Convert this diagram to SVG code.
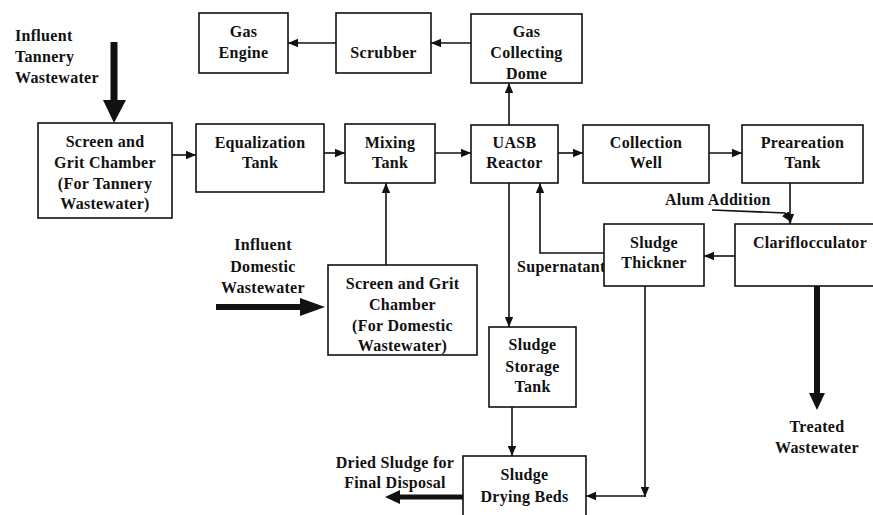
<svg xmlns="http://www.w3.org/2000/svg" width="873" height="515" viewBox="0 0 873 515" font-family="'Liberation Serif', 'Times New Roman', serif">
<style>
  .box { fill: #fff; stroke: #111; stroke-width: 1.6; }
  text { font-family: 'Liberation Serif', 'Times New Roman', serif; font-weight: bold; font-size: 16px; fill: #111; letter-spacing: 0.3px; }
  .c { text-anchor: middle; }
  .ln { fill: none; stroke: #111; stroke-width: 1.6; }
  .thick { fill: none; stroke: #111; }
  .head { fill: #111; }
</style>
<defs>
  <marker id="arr" markerUnits="userSpaceOnUse" markerWidth="10" markerHeight="10" viewBox="0 0 10 10" refX="10" refY="5" orient="auto">
    <path d="M0,0.8 L10,5 L0,9.2 Z" fill="#111"/>
  </marker>
</defs>
<rect width="873" height="515" fill="#fff"/>

<g id="connectors">
  <line class="thick" x1="114" y1="42" x2="114" y2="101" stroke-width="7"/>
  <polygon class="head" points="103,100 126,100 114,123"/>
  <line class="thick" x1="216" y1="307" x2="301" y2="307" stroke-width="6"/>
  <polygon class="head" points="300,298 300,316 325,307"/>
  <line class="thick" x1="817" y1="286" x2="817" y2="394" stroke-width="6"/>
  <polygon class="head" points="809,393 825,393 817,410"/>
  <line class="thick" x1="463" y1="497" x2="399" y2="497" stroke-width="5"/>
  <polygon class="head" points="400,490 400,504 385,497"/>

  <line class="ln" x1="172" y1="155" x2="196" y2="155" marker-end="url(#arr)"/>
  <line class="ln" x1="324" y1="153" x2="345" y2="153" marker-end="url(#arr)"/>
  <line class="ln" x1="435" y1="153" x2="471" y2="153" marker-end="url(#arr)"/>
  <line class="ln" x1="558" y1="153" x2="583" y2="153" marker-end="url(#arr)"/>
  <line class="ln" x1="709" y1="153" x2="742" y2="153" marker-end="url(#arr)"/>
  <line class="ln" x1="509" y1="125" x2="509" y2="83" marker-end="url(#arr)"/>
  <line class="ln" x1="471" y1="43" x2="431" y2="43" marker-end="url(#arr)"/>
  <line class="ln" x1="336" y1="43" x2="288" y2="43" marker-end="url(#arr)"/>
  <line class="ln" x1="386" y1="265" x2="386" y2="183" marker-end="url(#arr)"/>
  <line class="ln" x1="509" y1="183" x2="509" y2="327" marker-end="url(#arr)"/>
  <line class="ln" x1="512" y1="407" x2="512" y2="456" marker-end="url(#arr)"/>
  <path class="ln" d="M604,253 H540 V183" marker-end="url(#arr)"/>
  <line class="ln" x1="735" y1="256" x2="704" y2="256" marker-end="url(#arr)"/>
  <line class="ln" x1="790" y1="183" x2="790" y2="224" marker-end="url(#arr)"/>
  <path class="ln" d="M712,210 L785,213 L791,222" marker-end="url(#arr)"/>
  <line class="ln" x1="645" y1="286" x2="645" y2="497" marker-end="url(#arr)"/>
  <line class="ln" x1="645" y1="496" x2="586" y2="496" marker-end="url(#arr)"/>
</g>

<g id="label-influent-tannery">
  <text x="15" y="41">Influent</text>
  <text x="15" y="62">Tannery</text>
  <text x="15" y="83">Wastewater</text>
</g>
<g id="label-influent-domestic">
  <text class="c" x="263" y="250">Influent</text>
  <text class="c" x="263" y="272">Domestic</text>
  <text class="c" x="263" y="293">Wastewater</text>
</g>
<g id="label-alum">
  <text x="665" y="205">Alum Addition</text>
</g>
<g id="label-supernatant">
  <text x="517" y="272">Supernatant</text>
</g>
<g id="label-treated">
  <text class="c" x="817" y="432">Treated</text>
  <text class="c" x="817" y="453">Wastewater</text>
</g>
<g id="label-dried">
  <text class="c" x="395" y="468">Dried Sludge for</text>
  <text class="c" x="395" y="488">Final Disposal</text>
</g>

<g id="gas-engine">
  <rect class="box" x="199" y="13" width="89" height="60"/>
  <text class="c" x="243.5" y="37">Gas</text>
  <text class="c" x="243.5" y="58">Engine</text>
</g>
<g id="scrubber">
  <rect class="box" x="336" y="13" width="95" height="60"/>
  <text class="c" x="383.5" y="58">Scrubber</text>
</g>
<g id="gas-collecting-dome">
  <rect class="box" x="471" y="14" width="111" height="69"/>
  <text class="c" x="526.5" y="37">Gas</text>
  <text class="c" x="526.5" y="58">Collecting</text>
  <text class="c" x="526.5" y="79">Dome</text>
</g>
<g id="screen-tannery">
  <rect class="box" x="38" y="123" width="134" height="95"/>
  <text class="c" x="105" y="147">Screen and</text>
  <text class="c" x="105" y="168">Grit Chamber</text>
  <text class="c" x="105" y="189">(For Tannery</text>
  <text class="c" x="105" y="209">Wastewater)</text>
</g>
<g id="equalization-tank">
  <rect class="box" x="196" y="124" width="128" height="68"/>
  <text class="c" x="260" y="148">Equalization</text>
  <text class="c" x="260" y="168">Tank</text>
</g>
<g id="mixing-tank">
  <rect class="box" x="345" y="124" width="90" height="59"/>
  <text class="c" x="390" y="148">Mixing</text>
  <text class="c" x="390" y="168">Tank</text>
</g>
<g id="uasb-reactor">
  <rect class="box" x="471" y="125" width="87" height="58"/>
  <text class="c" x="514.5" y="148">UASB</text>
  <text class="c" x="514.5" y="168">Reactor</text>
</g>
<g id="collection-well">
  <rect class="box" x="583" y="125" width="126" height="58"/>
  <text class="c" x="646" y="148">Collection</text>
  <text class="c" x="646" y="168">Well</text>
</g>
<g id="preareation-tank">
  <rect class="box" x="742" y="125" width="121" height="58"/>
  <text class="c" x="802.5" y="148">Preareation</text>
  <text class="c" x="802.5" y="168">Tank</text>
</g>
<g id="sludge-thickner">
  <rect class="box" x="604" y="224" width="100" height="62"/>
  <text class="c" x="654" y="248">Sludge</text>
  <text class="c" x="654" y="268">Thickner</text>
</g>
<g id="clariflocculator">
  <rect class="box" x="735" y="224" width="150" height="62"/>
  <text class="c" x="810" y="248">Clariflocculator</text>
</g>
<g id="screen-domestic">
  <rect class="box" x="328" y="265" width="149" height="90"/>
  <text class="c" x="402.5" y="289">Screen and Grit</text>
  <text class="c" x="402.5" y="310">Chamber</text>
  <text class="c" x="402.5" y="331">(For Domestic</text>
  <text class="c" x="402.5" y="351">Wastewater)</text>
</g>
<g id="sludge-storage-tank">
  <rect class="box" x="489" y="327" width="87" height="80"/>
  <text class="c" x="532.5" y="350">Sludge</text>
  <text class="c" x="532.5" y="372">Storage</text>
  <text class="c" x="532.5" y="392">Tank</text>
</g>
<g id="sludge-drying-beds">
  <rect class="box" x="463" y="456" width="123" height="70"/>
  <text class="c" x="524.5" y="480">Sludge</text>
  <text class="c" x="524.5" y="502">Drying Beds</text>
</g>
</svg>
